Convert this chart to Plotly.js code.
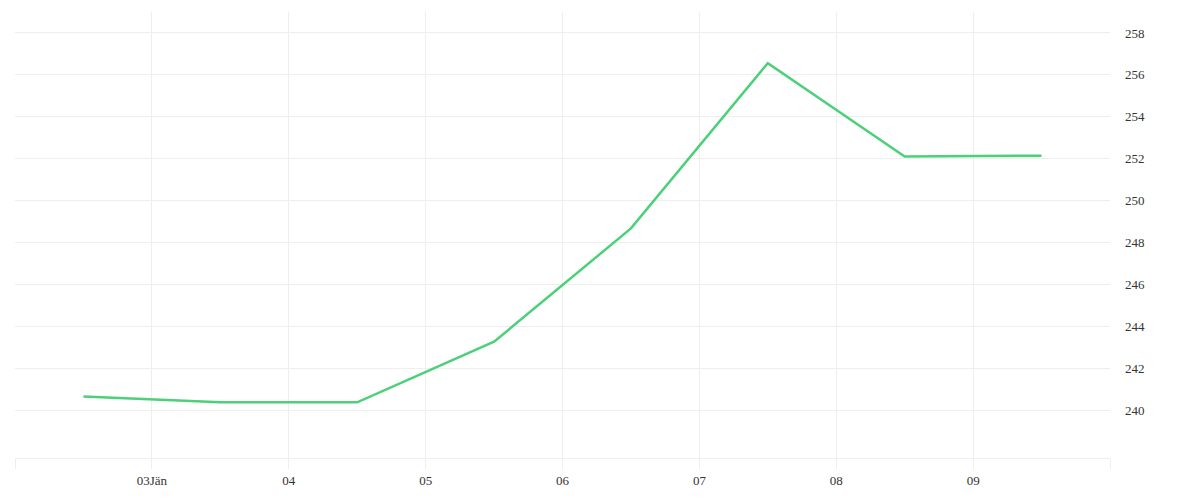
<!DOCTYPE html>
<html>
<head>
<meta charset="utf-8">
<script src="https://cdn.plot.ly/plotly-3.0.1.min.js"></script>
<style>
  html, body { margin: 0; padding: 0; background: #fff; }
  #chart { width: 1200px; height: 500px; }
</style>
</head>
<body>
<div id="chart"></div>
<script>
// Daily values, plotted at midday of each day
const dates = [
  '2024-01-02 12:00', '2024-01-03 12:00', '2024-01-04 12:00', '2024-01-05 12:00',
  '2024-01-06 12:00', '2024-01-07 12:00', '2024-01-08 12:00', '2024-01-09 12:00'
];
const values = [240.65, 240.37, 240.37, 243.26, 248.67, 256.56, 252.10, 252.14];

// Day boundaries used as ticks / grid; the outer two are unlabelled
const tickDays = [
  '2024-01-02', '2024-01-03', '2024-01-04', '2024-01-05', '2024-01-06',
  '2024-01-07', '2024-01-08', '2024-01-09', '2024-01-10'
];
const tickLabels = ['', '03Jän', '04', '05', '06', '07', '08', '09', ''];
const yTicks = [240, 242, 244, 246, 248, 250, 252, 254, 256, 258];

const GRID = '#eeeeee';
const TEXT = '#333333';
const FONT = 'Liberation Serif';

const trace = {
  x: dates,
  y: values,
  type: 'scatter',
  mode: 'lines',
  line: { color: '#4cd07a', width: 2.5 },
  hoverinfo: 'x+y',
};

const layout = {
  width: 1200,
  height: 500,
  showlegend: false,
  margin: { l: 15, r: 90, t: 12, b: 42, pad: 0 },
  paper_bgcolor: '#ffffff',
  plot_bgcolor: '#ffffff',
  font: { family: FONT, size: 13, color: TEXT },
  xaxis: {
    type: 'date',
    range: ['2024-01-02', '2024-01-10'],
    tickmode: 'array',
    tickvals: tickDays,
    ticktext: tickLabels,
    showgrid: true,
    gridcolor: GRID,
    gridwidth: 1,
    showline: true,
    linecolor: GRID,
    linewidth: 1,
    ticks: 'outside',
    ticklen: 10,
    tickcolor: GRID,
    zeroline: false,
    tickfont: { family: FONT, size: 13, color: TEXT },
  },
  yaxis: {
    side: 'right',
    range: [237.71, 259.0],
    tickmode: 'array',
    tickvals: yTicks,
    showgrid: true,
    gridcolor: GRID,
    gridwidth: 1,
    showline: false,
    zeroline: false,
    ticks: '',
    ticklabelstandoff: 14,
    tickfont: { family: FONT, size: 13, color: TEXT },
  },
};

Plotly.newPlot('chart', [trace], layout, { displayModeBar: false, staticPlot: true });
</script>
</body>
</html>
